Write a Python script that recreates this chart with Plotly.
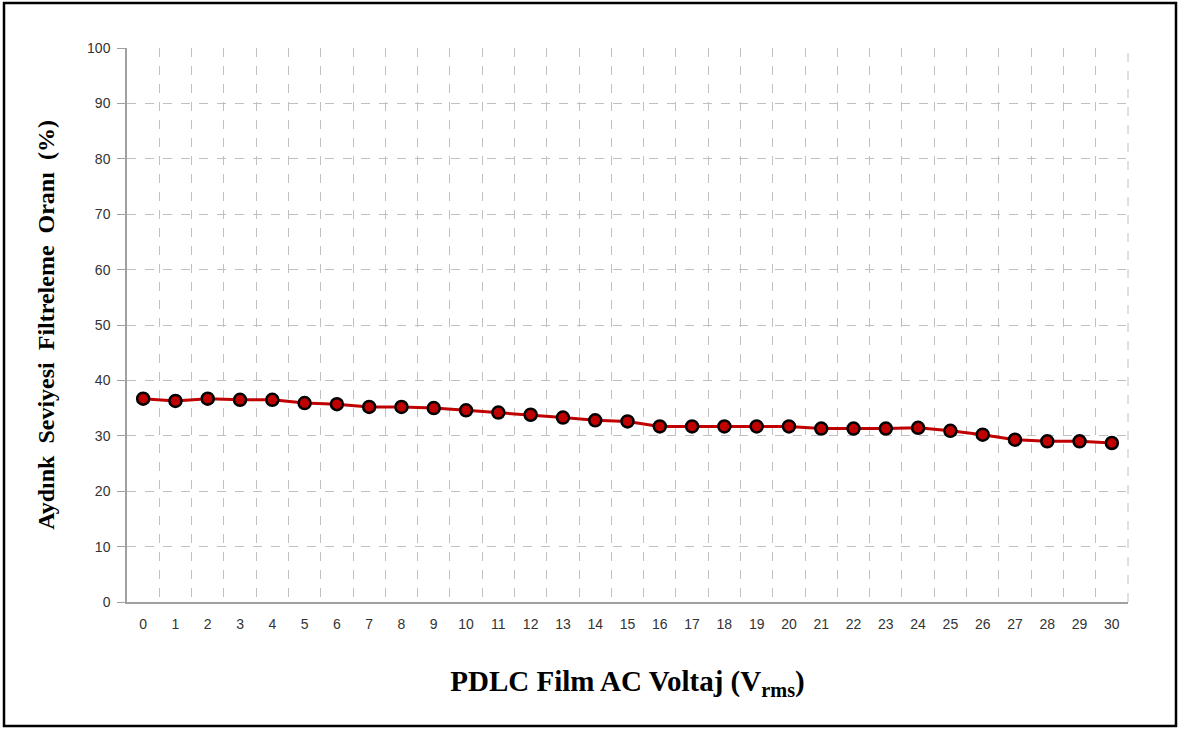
import plotly.graph_objs as go

voltaj = list(range(0, 31))
filtreleme = [36.7, 36.3, 36.7, 36.5, 36.5, 35.9, 35.7, 35.2, 35.2, 35.0,
              34.6, 34.2, 33.8, 33.3, 32.8, 32.6, 31.7, 31.7, 31.7, 31.7,
              31.7, 31.3, 31.3, 31.3, 31.45, 30.9, 30.2, 29.3, 29.0, 29.0, 28.7]
y_ticks = list(range(0, 101, 10))

fig = go.Figure()

fig.add_scatter(
    x=[str(v) for v in voltaj], y=filtreleme,
    mode="lines+markers",
    line=dict(color="#c00000", width=3),
    marker=dict(size=12, color="#c00000", line=dict(color="black", width=2.5)),
    showlegend=False,
    hoverinfo="x+y",
)

fig.update_layout(
    width=1179,
    height=729,
    plot_bgcolor="white",
    paper_bgcolor="white",
    margin=dict(l=127, r=51, t=48, b=127, autoexpand=False),
    font=dict(family="Liberation Sans", size=13, color="#333333"),
    xaxis=dict(
        type="category",
        range=[-0.5, 30.5],
        tickson="boundaries",
        ticks="",
        showgrid=True,
        gridcolor="#c0c0c0",
        griddash="dash",
        gridwidth=1,
        showline=True,
        linecolor="#a0a0a0",
        linewidth=1.5,
        ticklabelstandoff=8,
        tickfont=dict(family="Liberation Sans", size=14, color="#333333"),
        title=dict(
            text="<b>PDLC Film AC Voltaj (V<sub>rms</sub>)</b>",
            font=dict(family="Liberation Serif", size=29, color="black"),
            standoff=40,
        ),
    ),
    yaxis=dict(
        range=[0, 100],
        tickvals=y_ticks,
        ticks="outside",
        ticklen=8,
        tickcolor="#a0a0a0",
        showgrid=True,
        gridcolor="#c0c0c0",
        griddash="dash",
        gridwidth=1,
        zeroline=False,
        showline=True,
        linecolor="#a0a0a0",
        linewidth=1.5,
        ticklabelstandoff=4,
        tickfont=dict(family="Liberation Sans", size=14, color="#333333"),
        title=dict(
            text="<b>Aydınk \u00a0Seviyesi \u00a0Filtreleme \u00a0Oranı \u00a0(%)</b>",
            font=dict(family="Liberation Serif", size=24, color="black"),
            standoff=26,
        ),
    ),
)

# dashed gridline closing the plot area on the right
fig.add_shape(
    type="line", xref="paper", yref="paper",
    x0=1, x1=1, y0=0, y1=1,
    line=dict(color="#c0c0c0", width=1, dash="dash"),
)

# outer frame around the whole chart
fig.add_shape(
    type="rect", xref="paper", yref="paper",
    x0=-123 / 1001, x1=1 + 48 / 1001, y0=-124 / 554, y1=1 + 45 / 554,
    line=dict(color="black", width=2.5),
)

fig.write_html("out.html", config={"displayModeBar": False},
               post_script="document.body.style.margin='0';")
